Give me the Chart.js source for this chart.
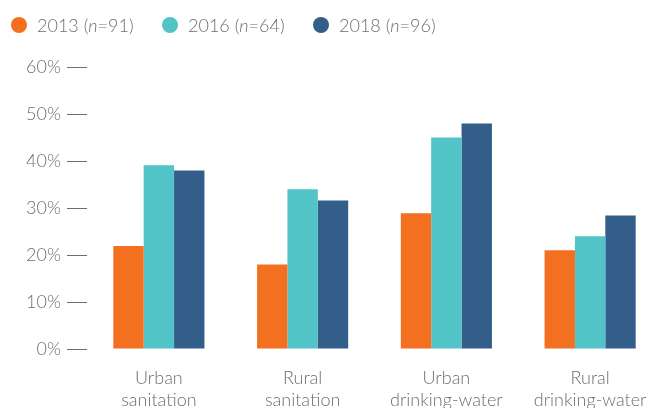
<!DOCTYPE html>
<html>
<head>
<meta charset="utf-8">
<script src="https://cdn.jsdelivr.net/npm/chart.js@4"></script>
<style>
  body { margin: 0; background: #fff; }
  .wrap { position: relative; width: 653px; height: 408px; overflow: hidden; }
  .legend { position: absolute; top: 0; left: 0; width: 653px; height: 50px; font-family: "Lato", sans-serif; font-weight: 300; font-size: 18px; color: #6d6e71; }
  .legend .item { position: absolute; top: 13px; line-height: 24px; white-space: nowrap; }
  .legend .dot { position: absolute; top: 4px; width: 16px; height: 16px; border-radius: 50%; }
  canvas { position: absolute; top: 0; left: 0; }
</style>
</head>
<body>
<div class="wrap">
  <canvas id="chart" width="700" height="408"></canvas>
  <div class="legend" id="legend"></div>
</div>
<script>
const categories = [
  ["Urban", "sanitation"],
  ["Rural", "sanitation"],
  ["Urban", "drinking-water"],
  ["Rural", "drinking-water"]
];
const seriesNames = ["2013", "2016", "2018"];
const sampleSizes = [91, 64, 96];
const values2013 = [21.9, 18.0, 28.9, 21.0];
const values2016 = [39.1, 34.0, 45.0, 24.0];
const values2018 = [38.0, 31.6, 48.0, 28.4];
const colors = ["#f37021", "#52c3c6", "#345e8a"];
const yTicks = [0, 10, 20, 30, 40, 50, 60];

// html legend so the "n" can be italic
const legendEl = document.getElementById("legend");
const legendX = [11, 162, 313];
seriesNames.forEach((name, i) => {
  const item = document.createElement("div");
  item.className = "item";
  item.style.left = legendX[i] + "px";
  item.innerHTML =
    '<span class="dot" style="left:0;background:' + colors[i] + '"></span>' +
    '<span style="margin-left:26px">' + name + ' (<i>n</i>=' + sampleSizes[i] + ')</span>';
  legendEl.appendChild(item);
});

const font = { family: "Lato", weight: 300, size: 18, lineHeight: 1.22 };

new Chart(document.getElementById("chart"), {
  type: "bar",
  data: {
    labels: categories,
    datasets: [values2013, values2016, values2018].map((d, i) => ({
      label: seriesNames[i],
      data: d,
      backgroundColor: colors[i],
      borderWidth: 0,
      categoryPercentage: 0.634,
      barPercentage: 1
    }))
  },
  options: {
    responsive: false,
    animation: false,
    devicePixelRatio: 1,
    layout: { padding: { top: 67, left: 0, right: 38, bottom: 0 } },
    plugins: { legend: { display: false }, tooltip: { enabled: false } },
    scales: {
      x: {
        grid: { display: false, drawTicks: false },
        border: { display: false },
        ticks: { color: "#6d6e71", font: font, padding: 18, maxRotation: 0, autoSkip: false },
        afterFit: (scale) => { scale.height = 59; }
      },
      y: {
        min: 0,
        max: 60,
        afterBuildTicks: (scale) => { scale.ticks = yTicks.map(v => ({ value: v })); },
        grid: { drawOnChartArea: false, drawTicks: true, tickLength: 20, color: "#6d6e71", lineWidth: 1 },
        border: { display: false },
        ticks: { color: "#6d6e71", font: font, padding: 6, callback: (v) => v + "%" },
        afterFit: (scale) => { scale.width = 87; }
      }
    }
  }
});
</script>
</body>
</html>
